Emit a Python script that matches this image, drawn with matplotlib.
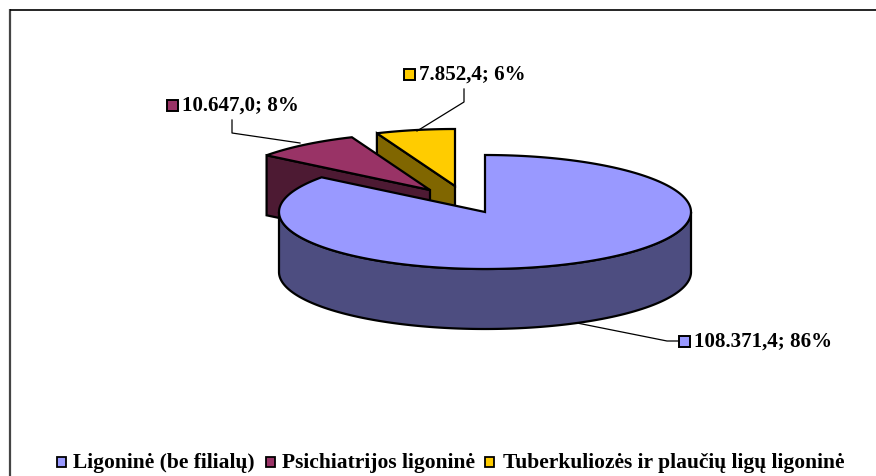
import numpy as np
import matplotlib.pyplot as plt
from matplotlib.patches import Polygon, Rectangle

categories = ['Ligoninė (be filialų)', 'Psichiatrijos ligoninė', 'Tuberkuliozės ir plaučių ligų ligoninė']
values = [108371.4, 10647.0, 7852.4]
percent_labels = ['86%', '8%', '6%']
value_labels = ['108.371,4', '10.647,0', '7.852,4']

top_colors = ['#9999FF', '#993366', '#FFCC00']
wall_colors = ['#4D4D80', '#4D1A33', '#806600']

plt.rcParams['font.family'] = ['Liberation Serif', 'DejaVu Serif']
plt.rcParams['font.weight'] = 'bold'

fig = plt.figure(figsize=(8.76, 4.77), dpi=100)
ax = fig.add_axes([0, 0, 1, 1])
ax.set_xlim(0, 876)
ax.set_ylim(477, 0)
ax.axis('off')

# frame, only left and top are visible in the original
ax.plot([10, 10], [477, 10], color='#444444', lw=1.6, zorder=1, solid_capstyle='butt')
ax.plot([10, 876], [10.5, 10.5], color='black', lw=1.2, zorder=1, solid_capstyle='butt')

# pie layout in pixels
centers = [(485, 213), (430, 191), (455, 187)]
a, b = 206, 57
depth = 60

fractions = np.array(values) / sum(values)
edges = np.concatenate([[0], np.cumsum(fractions)]) * 2 * np.pi


def ell(c, t):
    return c[0] + a * np.sin(t), c[1] - b * np.cos(t)


def draw_slice(i, z):
    c = centers[i]
    t = np.linspace(edges[i], edges[i + 1], 200)
    x, y = ell(c, t)
    if i > 0:
        # cut face, only the two back slices show it
        ex, ey = ell(c, edges[i])
        wall = [(c[0], c[1]), (ex, ey), (ex, ey + depth), (c[0], c[1] + depth)]
    else:
        # outer wall, the part facing the viewer
        tw = np.linspace(np.pi / 2, 3 * np.pi / 2, 300)
        wx, wy = ell(c, tw)
        wall = np.column_stack([np.r_[wx, wx[::-1]], np.r_[wy, wy[::-1] + depth]])
    ax.add_patch(Polygon(wall, closed=True, fc=wall_colors[i], ec='black', lw=1.6, zorder=z))
    pts = np.column_stack([np.r_[c[0], x], np.r_[c[1], y]])
    ax.add_patch(Polygon(pts, closed=True, fc=top_colors[i], ec='black', lw=1.6, joinstyle='miter', zorder=z + 0.5))


draw_slice(2, 3)
draw_slice(1, 4)
draw_slice(0, 5)

# leader lines
leaders = [
    ([577, 667, 678], [324, 342, 342]),
    ([232, 232, 300], [121, 134, 144]),
    ([464, 464, 417], [90, 103, 132]),
]
for lx, ly in leaders:
    ax.plot(lx, ly, color='black', lw=0.9, zorder=6)

# data labels
label_pos = [(679, 342), (167, 106), (404, 75)]
for i, (x, y) in enumerate(label_pos):
    ax.add_patch(Rectangle((x, y - 5.5), 10.5, 11, fc=top_colors[i], ec='black', lw=1.4, zorder=7))
    ax.text(x + 15, y, f'{value_labels[i]}; {percent_labels[i]}', fontsize=15.1, va='center', ha='left',
            color='black', zorder=7)

# legend
legend_marks = [57, 266, 485]
legend_text = [73, 282, 503]
for i, x in enumerate(legend_marks):
    ax.add_patch(Rectangle((x, 458), 9, 10, fc=top_colors[i], ec='black', lw=1.3, zorder=7))
    ax.text(legend_text[i], 463, categories[i], fontsize=15.5, va='center', ha='left', color='black', zorder=7)

fig.savefig('out.png', dpi=100)
